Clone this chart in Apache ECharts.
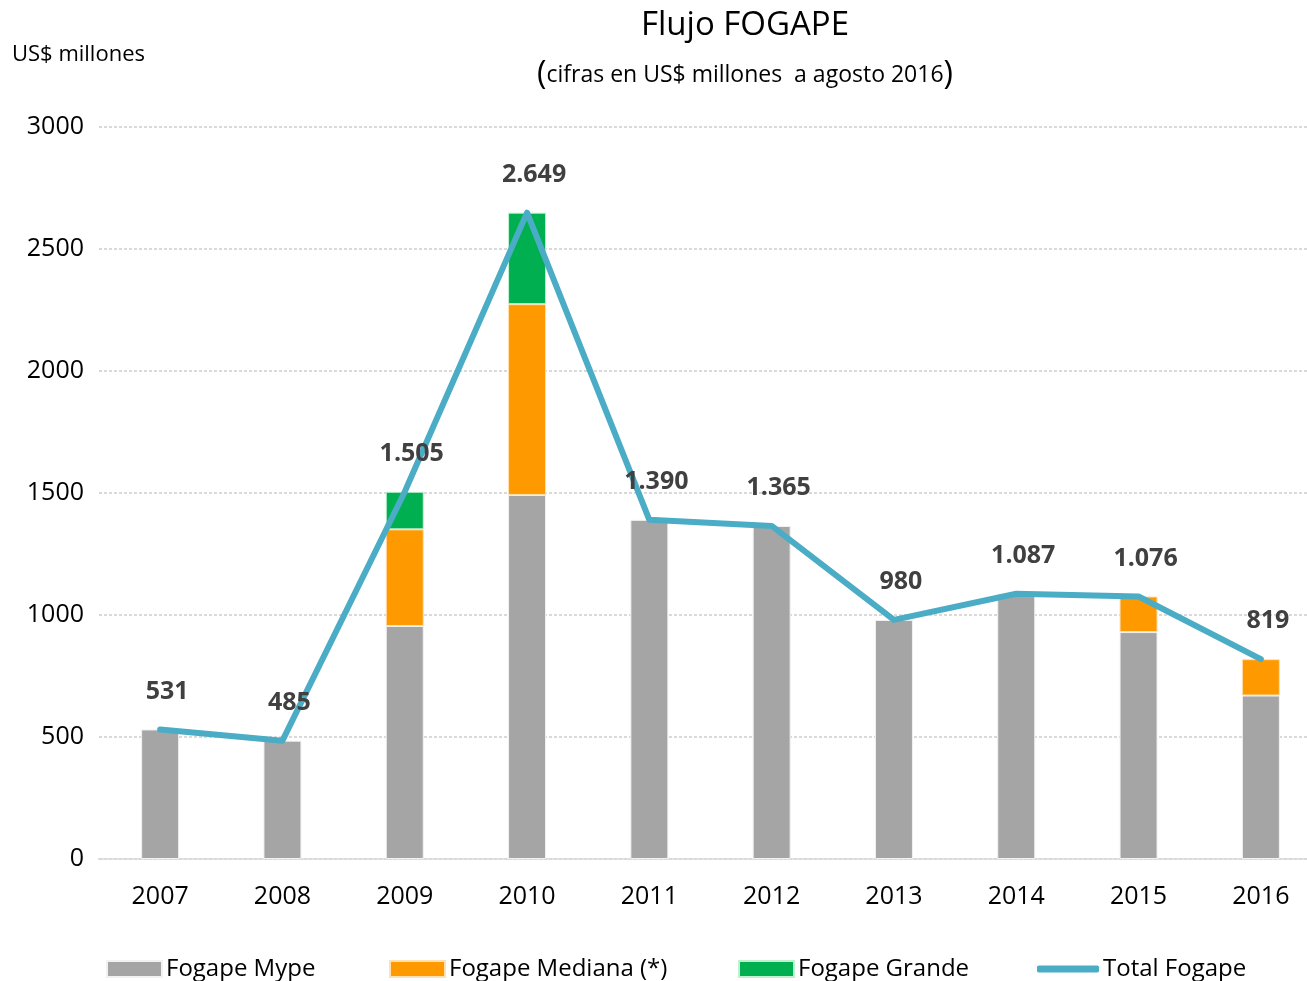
<!DOCTYPE html>
<html lang="es">
<head>
    <meta charset="UTF-8">
    <title>Flujo FOGAPE</title>
    <script src="https://cdn.jsdelivr.net/npm/echarts@6/dist/echarts.min.js"></script>
    <style>
        html, body { margin: 0; padding: 0; background: #fff; overflow: hidden; }
        /* el area del grafico sigue un poco mas alla del borde derecho */
        #chart { width: 1322px; height: 981px; }
    </style>
</head>
<body>
<div id="chart"></div>
<script>
    // datos (US$ millones)
    var years = ['2007', '2008', '2009', '2010', '2011', '2012', '2013', '2014', '2015', '2016'];
    var mype = [531, 485, 955, 1492, 1390, 1365, 980, 1087, 930, 670];
    var mediana = [null, null, 396, 782, null, null, null, null, 146, 149];
    var grande = [null, null, 154, 375, null, null, null, null, null, null];
    var total = [531, 485, 1505, 2649, 1390, 1365, 980, 1087, 1076, 819];
    var yTicks = [0, 500, 1000, 1500, 2000, 2500, 3000];

    var font = '"Open Sans", "Noto Sans", sans-serif';

    var fmt = function (v) {
        return String(v).replace(/\B(?=(\d{3})+(?!\d))/g, '.');
    };

    var chart = echarts.init(document.getElementById('chart'));

    var legendBase = {
        bottom: 0,
        padding: 0,
        itemHeight: 16,
        itemWidth: 55,
        itemGap: 0,
        textStyle: { fontFamily: font, fontSize: 24, color: '#000', padding: [0, 0, 0, -1] },
        selectedMode: false
    };

    var option = {
        animation: false,
        textStyle: { fontFamily: font },
        title: [
            {
                text: 'Flujo FOGAPE',
                left: 745, top: 9, textAlign: 'center', padding: 0,
                textStyle: { fontFamily: font, fontSize: 33, fontWeight: 'normal', color: '#000' }
            },
            {
                text: '{p|(}{t|cifras en US$ millones  a agosto 2016}{p|)}',
                left: 745, top: 59, textAlign: 'center', padding: 0,
                textStyle: {
                    fontWeight: 'normal',
                    rich: {
                        p: { fontFamily: font, fontSize: 32, fontWeight: 'normal', color: '#000' },
                        t: { fontFamily: font, fontSize: 23, fontWeight: 'normal', color: '#000' }
                    }
                }
            },
            {
                text: 'US$ millones',
                left: 12, top: 44, padding: 0,
                textStyle: { fontFamily: font, fontSize: 22, fontWeight: 'normal', color: '#000' }
            }
        ],
        legend: [
            Object.assign({}, legendBase, { left: 106, data: [{ name: 'Fogape Mype', icon: 'rect' }] }),
            Object.assign({}, legendBase, { left: 389, data: [{ name: 'Fogape Mediana (*)', icon: 'rect' }] }),
            Object.assign({}, legendBase, { left: 738, data: [{ name: 'Fogape Grande', icon: 'rect' }] }),
            Object.assign({}, legendBase, {
                left: 1037, itemWidth: 62, itemHeight: 7,
                data: [{ name: 'Total Fogape', icon: 'roundRect' }]
            })
        ],
        grid: { left: 99, top: 127, right: 0, bottom: 122, containLabel: false },
        xAxis: {
            type: 'category',
            data: years,
            axisLine: { show: true, lineStyle: { color: '#d9d9d9', width: 2, type: [3, 2] } },
            axisTick: { show: false },
            axisLabel: { color: '#000', fontSize: 25, fontFamily: font, margin: 25 }
        },
        yAxis: {
            type: 'value',
            min: yTicks[0],
            max: yTicks[yTicks.length - 1],
            interval: 500,
            axisLine: { show: false },
            axisTick: { show: false },
            axisLabel: {
                color: '#000', fontSize: 25, fontFamily: font, margin: 15,
                formatter: function (v) { return String(v); }
            },
            splitLine: { lineStyle: { color: '#d9d9d9', width: 2, type: [3, 2] } }
        },
        series: [
            {
                name: 'Fogape Mype', type: 'bar', stack: 'f', data: mype,
                barWidth: 38,
                itemStyle: { color: '#a5a5a5', borderColor: '#f2f2f2', borderWidth: 1 }
            },
            {
                name: 'Fogape Mediana (*)', type: 'bar', stack: 'f', data: mediana,
                itemStyle: { color: '#ff9900', borderColor: '#ffe0b0', borderWidth: 1 }
            },
            {
                name: 'Fogape Grande', type: 'bar', stack: 'f', data: grande,
                itemStyle: { color: '#00b050', borderColor: '#c0f0d0', borderWidth: 1 }
            },
            {
                name: 'Total Fogape', type: 'line', data: total,
                symbol: 'circle', symbolSize: 1, showSymbol: true, z: 5,
                lineStyle: { color: '#4bacc6', width: 6, cap: 'round', join: 'round' },
                itemStyle: { color: '#4bacc6' },
                label: {
                    show: true, position: 'top', distance: 25,
                    fontFamily: font, fontSize: 25, fontWeight: 'bold', color: '#404040',
                    formatter: function (p) { return fmt(p.value); }
                },
                labelLayout: { hideOverlap: false, dx: 7 }
            }
        ]
    };

    chart.setOption(option);
</script>
</body>
</html>
